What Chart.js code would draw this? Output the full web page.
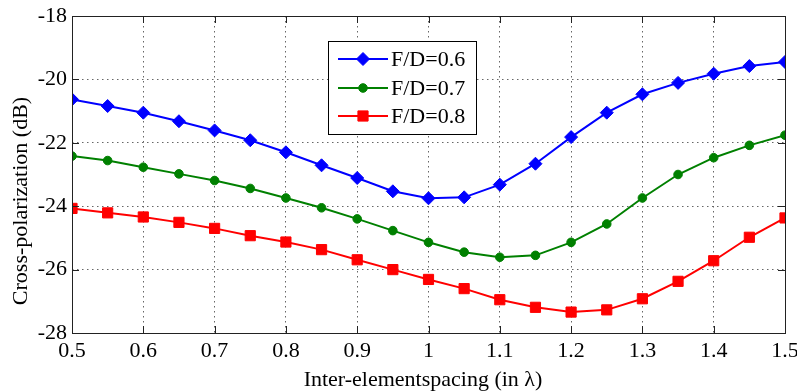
<!DOCTYPE html>
<html>
<head>
<meta charset="utf-8">
<script src="https://cdn.jsdelivr.net/npm/chart.js@4/dist/chart.umd.min.js"></script>
<style>
  html, body { margin: 0; padding: 0; background: #ffffff; }
  #wrap { width: 797px; height: 392px; position: relative; }
</style>
</head>
<body>
<div id="wrap"><canvas id="c" width="797" height="392"></canvas></div>
<script>
// ---- data ----
const spacing = [0.5, 0.55, 0.6, 0.65, 0.7, 0.75, 0.8, 0.85, 0.9, 0.95, 1.0,
                 1.05, 1.1, 1.15, 1.2, 1.25, 1.3, 1.35, 1.4, 1.45, 1.5];
const fd06 = [-20.63, -20.84, -21.05, -21.32, -21.61, -21.92, -22.30, -22.71, -23.11, -23.53, -23.75,
              -23.72, -23.32, -22.66, -21.82, -21.05, -20.47, -20.11, -19.82, -19.58, -19.45];
const fd07 = [-22.42, -22.56, -22.77, -22.98, -23.19, -23.44, -23.74, -24.05, -24.40, -24.77, -25.14,
              -25.45, -25.61, -25.55, -25.14, -24.56, -23.74, -23.00, -22.47, -22.08, -21.76];
const fd08 = [-24.07, -24.21, -24.34, -24.51, -24.70, -24.93, -25.13, -25.37, -25.69, -26.00, -26.31,
              -26.60, -26.95, -27.19, -27.34, -27.27, -26.92, -26.37, -25.72, -24.98, -24.37];
const seriesNames = ['F/D=0.6', 'F/D=0.7', 'F/D=0.8'];
const xTickLabels = ['0.5', '0.6', '0.7', '0.8', '0.9', '1', '1.1', '1.2', '1.3', '1.4', '1.5'];
const yTickLabels = ['-28', '-26', '-24', '-22', '-20', '-18'];
const xTitle = 'Inter-elementspacing (in \u03BB)';
const yTitle = 'Cross-polarization (dB)';

const FONT = '"Liberation Serif", "Times New Roman", serif';
const FSIZE = 22;

function pts(ys) { return spacing.map((x, i) => ({ x: x, y: ys[i] })); }

const styles = [
  { color: '#0000ff', pointStyle: 'rectRot', radius: 6.5 },
  { color: '#008000', pointStyle: 'circle', radius: 4.3 },
  { color: '#ff0000', pointStyle: 'rect', radius: 7.2 }
];

function drawMarker(ctx, style, r, x, y, color) {
  ctx.save();
  ctx.fillStyle = color;
  ctx.strokeStyle = color;
  ctx.lineWidth = 1;
  Chart.helpers.drawPoint(ctx, { pointStyle: style, radius: r, borderWidth: 1, rotation: 0 }, x, y);
  ctx.restore();
}

const frameAndLegend = {
  id: 'frameAndLegend',
  afterDraw(chart) {
    const ctx = chart.ctx;
    const a = chart.chartArea;
    const xs = chart.scales.x, ys = chart.scales.y;
    ctx.save();
    // frame
    ctx.strokeStyle = '#222';
    ctx.lineWidth = 1;
    ctx.setLineDash([]);
    ctx.strokeRect(Math.round(a.left) + 0.5, Math.round(a.top) + 0.5,
                   Math.round(a.right - a.left), Math.round(a.bottom - a.top));
    // inward ticks
    const tl = 7;
    ctx.beginPath();
    xs.ticks.forEach(t => {
      const px = Math.round(xs.getPixelForValue(t.value)) + 0.5;
      ctx.moveTo(px, a.bottom); ctx.lineTo(px, a.bottom - tl);
      ctx.moveTo(px, a.top); ctx.lineTo(px, a.top + tl);
    });
    ys.ticks.forEach(t => {
      const py = Math.round(ys.getPixelForValue(t.value)) + 0.5;
      ctx.moveTo(a.left, py); ctx.lineTo(a.left + tl, py);
      ctx.moveTo(a.right, py); ctx.lineTo(a.right - tl, py);
    });
    ctx.stroke();

    // axis titles
    ctx.fillStyle = '#000';
    ctx.font = FSIZE + 'px ' + FONT;
    ctx.textAlign = 'center';
    ctx.textBaseline = 'middle';
    ctx.fillText(xTitle, 423, 380);
    ctx.save();
    ctx.translate(21, 201);
    ctx.rotate(-Math.PI / 2);
    ctx.fillText(yTitle, 0, 0);
    ctx.restore();

    // legend
    const bx = 328.5, by = 41.5, bw = 148, bh = 93;
    ctx.fillStyle = '#fff';
    ctx.fillRect(bx, by, bw, bh);
    ctx.strokeStyle = '#000';
    ctx.lineWidth = 1;
    ctx.strokeRect(bx, by, bw, bh);
    const rowsY = [59, 88, 116];
    chart.data.datasets.forEach((ds, i) => {
      const y = rowsY[i];
      ctx.strokeStyle = ds.borderColor;
      ctx.lineWidth = 2;
      ctx.beginPath();
      ctx.moveTo(338, y); ctx.lineTo(388, y);
      ctx.stroke();
      drawMarker(ctx, ds.pointStyle, ds.pointRadius, 363, y, ds.borderColor);
      ctx.fillStyle = '#000';
      ctx.font = FSIZE + 'px ' + FONT;
      ctx.textAlign = 'left';
      ctx.textBaseline = 'middle';
      ctx.fillText(ds.label, 391, y + 1);
    });
    ctx.restore();
  }
};

const datasets = [fd06, fd07, fd08].map((ys, i) => ({
  label: seriesNames[i],
  data: pts(ys),
  borderColor: styles[i].color,
  backgroundColor: styles[i].color,
  pointBackgroundColor: styles[i].color,
  pointBorderColor: styles[i].color,
  pointStyle: styles[i].pointStyle,
  pointRadius: styles[i].radius,
  pointHoverRadius: styles[i].radius,
  borderWidth: 2,
  pointBorderWidth: 1,
  tension: 0,
  fill: false
}));

new Chart(document.getElementById('c'), {
  type: 'line',
  data: { datasets: datasets },
  plugins: [frameAndLegend],
  options: {
    responsive: false,
    animation: false,
    devicePixelRatio: 1,
    layout: { padding: { left: 0, right: 12, top: 16, bottom: 0 } },
    plugins: { legend: { display: false }, tooltip: { enabled: false } },
    scales: {
      x: {
        type: 'linear',
        min: 0.5, max: 1.5,
        ticks: {
          stepSize: 0.1,
          padding: 5,
          color: '#000',
          font: { family: FONT, size: FSIZE },
          maxRotation: 0,
          autoSkip: false,
          callback: (v, i) => xTickLabels[i]
        },
        grid: { color: '#666', lineWidth: 1, drawTicks: false },
        border: { display: false, dash: [1.5, 3.5] },
        afterFit: s => { s.height = 59; s.paddingLeft = 0; s.paddingRight = 0; }
      },
      y: {
        type: 'linear',
        min: -28, max: -18,
        ticks: {
          stepSize: 2,
          padding: 5,
          color: '#000',
          font: { family: FONT, size: FSIZE },
          callback: (v, i) => yTickLabels[i]
        },
        grid: { color: '#666', lineWidth: 1, drawTicks: false },
        border: { display: false, dash: [1.5, 3.5] },
        afterFit: s => { s.width = 72; s.paddingTop = 0; s.paddingBottom = 0; }
      }
    }
  }
});
</script>
</body>
</html>
